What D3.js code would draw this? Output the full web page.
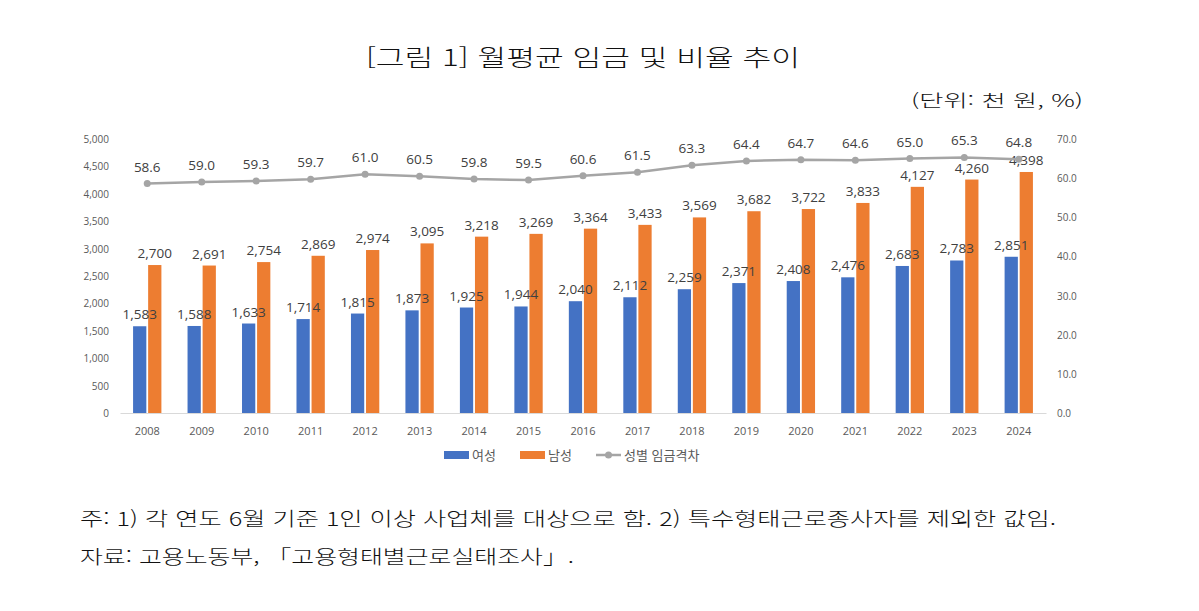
<!DOCTYPE html>
<html lang="ko">
<head>
    <meta charset="UTF-8">
    <title>월평균 임금 및 비율 추이</title>
    <script src="https://d3js.org/d3.v7.min.js"></script>
    <style>
        body {
            margin: 0;
            background: #fff;
        }
        .tick-label {
            font-family: "Open Sans", "Noto Sans", "Noto Sans CJK KR", sans-serif;
            font-size: 10px;
            fill: #595959;
        }
        .data-label {
            font-family: "Open Sans", "Noto Sans", sans-serif;
            font-size: 13.5px;
            fill: #404040;
        }
        .legend-text {
            font-family: "Noto Sans CJK KR", sans-serif;
            font-size: 13px;
            fill: #595959;
        }
        .page-text {
            font-family: "Noto Sans CJK KR", sans-serif;
            font-weight: 300;
            fill: #111;
        }
    </style>
</head>
<body>
    <svg id="chart" width="1199" height="611"></svg>

    <script>
        const years = ["2008", "2009", "2010", "2011", "2012", "2013", "2014", "2015", "2016",
                       "2017", "2018", "2019", "2020", "2021", "2022", "2023", "2024"];
        const female = [1583, 1588, 1633, 1714, 1815, 1873, 1925, 1944, 2040,
                        2112, 2259, 2371, 2408, 2476, 2683, 2783, 2851];
        const male = [2700, 2691, 2754, 2869, 2974, 3095, 3218, 3269, 3364,
                      3433, 3569, 3682, 3722, 3833, 4127, 4260, 4398];
        const gapRatio = [58.6, 59.0, 59.3, 59.7, 61.0, 60.5, 59.8, 59.5, 60.6,
                          61.5, 63.3, 64.4, 64.7, 64.6, 65.0, 65.3, 64.8];
        const seriesNames = ["여성", "남성", "성별 임금격차"];
        const leftTicks = d3.range(0, 5001, 500);
        const rightTicks = d3.range(0, 71, 10);

        const colors = { "여성": "#4472c4", "남성": "#ed7d31", "성별 임금격차": "#a5a5a5" };

        const svg = d3.select("#chart");

        // titles and notes
        svg.append("text")
            .attr("class", "page-text")
            .attr("x", 366).attr("y", 66)
            .attr("font-size", 23)
            .attr("textLength", 434).attr("lengthAdjust", "spacingAndGlyphs")
            .text("[그림 1] 월평균 임금 및 비율 추이");

        svg.append("text")
            .attr("class", "page-text")
            .attr("x", 1083).attr("y", 107)
            .attr("text-anchor", "end")
            .attr("font-size", 17)
            .attr("textLength", 172).attr("lengthAdjust", "spacingAndGlyphs")
            .text("(단위: 천 원, %)");

        svg.append("text")
            .attr("class", "page-text")
            .attr("x", 80).attr("y", 526)
            .attr("font-size", 19)
            .attr("textLength", 976).attr("lengthAdjust", "spacingAndGlyphs")
            .text("주: 1) 각 연도 6월 기준 1인 이상 사업체를 대상으로 함. 2) 특수형태근로종사자를 제외한 값임.");

        svg.append("text")
            .attr("class", "page-text")
            .attr("x", 80).attr("y", 564)
            .attr("font-size", 19)
            .attr("textLength", 494).attr("lengthAdjust", "spacingAndGlyphs")
            .text("자료: 고용노동부, 「고용형태별근로실태조사」.");

        // scales
        const x0 = d3.scaleBand()
            .domain(years)
            .range([120, 1046])
            .paddingInner(0.48)
            .paddingOuter(0.24);

        const x1 = d3.scaleBand()
            .domain(["여성", "남성"])
            .range([0, x0.bandwidth()])
            .paddingInner(0.12);

        const yLeft = d3.scaleLinear().domain([0, 5000]).range([413, 139]);
        const yRight = d3.scaleLinear().domain([0, 70]).range([413, 139]);

        // left axis
        const leftAxis = svg.append("g")
            .attr("transform", "translate(109,0)")
            .call(d3.axisLeft(yLeft).tickValues(leftTicks).tickFormat(d3.format(",")).tickSize(0).tickPadding(0));
        leftAxis.select(".domain").remove();
        leftAxis.selectAll("text").attr("class", "tick-label").attr("dy", "0.35em");

        // right axis
        const rightAxis = svg.append("g")
            .attr("transform", "translate(1057,0)")
            .call(d3.axisRight(yRight).tickValues(rightTicks).tickFormat(d3.format(".1f")).tickSize(0).tickPadding(0));
        rightAxis.select(".domain").remove();
        rightAxis.selectAll("text").attr("class", "tick-label").attr("dy", "0.35em");

        // bottom axis
        const bottomAxis = svg.append("g")
            .attr("transform", "translate(0,413)")
            .call(d3.axisBottom(x0).tickSize(0).tickPadding(14).tickSizeOuter(0));
        bottomAxis.select(".domain").attr("stroke", "#d9d9d9");
        bottomAxis.selectAll("text").attr("class", "tick-label").style("font-size", "11px");

        // bars
        const barData = years.map((y, i) => ({ year: y, values: [
            { key: "여성", value: female[i] },
            { key: "남성", value: male[i] }
        ] }));

        const groups = svg.append("g").selectAll("g")
            .data(barData)
            .join("g")
            .attr("transform", d => `translate(${x0(d.year)},0)`);

        groups.selectAll("rect")
            .data(d => d.values)
            .join("rect")
            .attr("x", d => x1(d.key))
            .attr("y", d => yLeft(d.value))
            .attr("width", x1.bandwidth())
            .attr("height", d => yLeft(0) - yLeft(d.value))
            .attr("fill", d => colors[d.key]);

        groups.selectAll("text")
            .data(d => d.values)
            .join("text")
            .attr("class", "data-label")
            .attr("x", d => x1(d.key) + x1.bandwidth() / 2)
            .attr("y", d => yLeft(d.value) - 7)
            .attr("text-anchor", "middle")
            .text(d => d3.format(",")(d.value));

        // ratio line
        const lineData = years.map((y, i) => ({ year: y, value: gapRatio[i] }));
        const cx = d => x0(d.year) + x0.bandwidth() / 2;

        svg.append("path")
            .datum(lineData)
            .attr("fill", "none")
            .attr("stroke", colors["성별 임금격차"])
            .attr("stroke-width", 2.5)
            .attr("d", d3.line().x(cx).y(d => yRight(d.value)));

        svg.append("g").selectAll("circle")
            .data(lineData)
            .join("circle")
            .attr("cx", cx)
            .attr("cy", d => yRight(d.value))
            .attr("r", 3.5)
            .attr("fill", colors["성별 임금격차"]);

        svg.append("g").selectAll("text")
            .data(lineData)
            .join("text")
            .attr("class", "data-label")
            .attr("x", cx)
            .attr("y", d => yRight(d.value) - 12)
            .attr("text-anchor", "middle")
            .text(d => d3.format(".1f")(d.value));

        // legend
        const legendX = [444, 520, 596];
        const legend = svg.append("g").attr("transform", "translate(0,455)");
        seriesNames.forEach((name, i) => {
            const g = legend.append("g").attr("transform", `translate(${legendX[i]},0)`);
            if (i < 2) {
                g.append("rect")
                    .attr("x", 0).attr("y", -4)
                    .attr("width", 25).attr("height", 8)
                    .attr("fill", colors[name]);
            } else {
                g.append("line")
                    .attr("x1", 0).attr("x2", 25)
                    .attr("stroke", colors[name]).attr("stroke-width", 2.5);
                g.append("circle")
                    .attr("cx", 12.5).attr("r", 3.5)
                    .attr("fill", colors[name]);
            }
            g.append("text")
                .attr("class", "legend-text")
                .attr("x", 28)
                .attr("dy", "0.35em")
                .text(name);
        });
    </script>
</body>
</html>
